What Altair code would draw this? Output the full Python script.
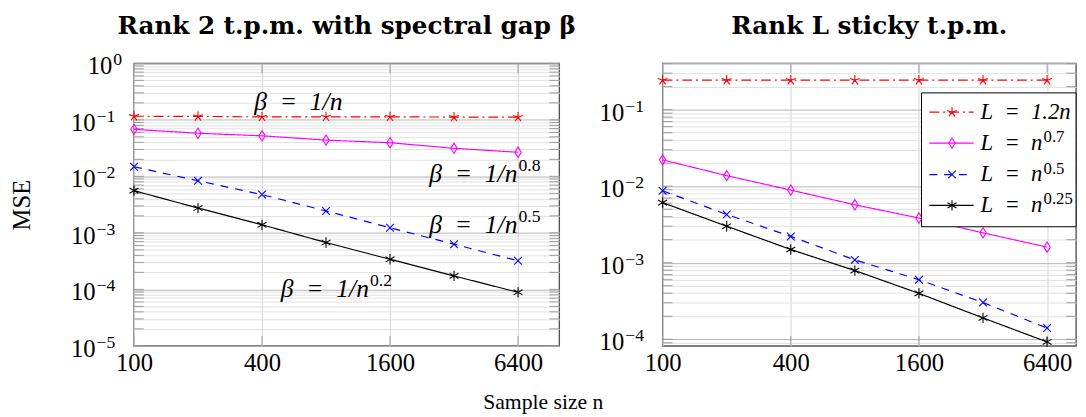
import altair as alt
import pandas as pd

FONT = "Liberation Serif"
TITLE_FONT = "DejaVu Serif"

# ---------------- data ----------------
n_values = [100, 200, 400, 800, 1600, 3200, 6400]
series_keys = ["red", "magenta", "blue", "black"]

left_red = [0.116, 0.115, 0.113, 0.113, 0.113, 0.112, 0.112]
left_magenta = [0.068, 0.058, 0.0522, 0.0438, 0.0394, 0.0314, 0.0267]
left_blue = [0.0148, 0.00835, 0.00476, 0.00244, 0.00123, 0.00063, 0.00032]
left_black = [0.00559, 0.00275, 0.00139, 0.000675, 0.000341, 0.000173, 0.0000887]

right_red = [0.243, 0.243, 0.243, 0.243, 0.243, 0.243, 0.243]
right_magenta = [0.0221, 0.01375, 0.0089, 0.00572, 0.00384, 0.00246, 0.0016]
right_blue = [0.00873, 0.00428, 0.00221, 0.00109, 0.0006, 0.000302, 0.00014]
right_black = [0.0061, 0.0030, 0.00149, 0.00079, 0.000398, 0.00019, 0.0000923]

x_tick_values = [100, 400, 1600, 6400]
left_decades = [1, 0.1, 0.01, 0.001, 0.0001, 0.00001]
left_exponents = ["0", "\u22121", "\u22122", "\u22123", "\u22124", "\u22125"]
right_decades = [0.1, 0.01, 0.001, 0.0001]
right_exponents = ["\u22121", "\u22122", "\u22123", "\u22124"]

note_text = ["\u03b2\u00a0\u00a0=\u00a0\u00a01/n"] * 4
note_exp = ["", "0.8", "0.5", "0.2"]
note_n = [956, 6360, 6360, 1274]
note_mse = [0.152, 0.00802, 0.00101, 0.0000743]

legend_text = ["L\u00a0\u00a0=\u00a0\u00a01.2n", "L\u00a0\u00a0=\u00a0\u00a0n",
               "L\u00a0\u00a0=\u00a0\u00a0n", "L\u00a0\u00a0=\u00a0\u00a0n"]
legend_exp = ["", "0.7", "0.5", "0.25"]

left_title = "Rank 2 t.p.m. with spectral gap \u03b2"
right_title = "Rank L sticky t.p.m."
x_title = "Sample size n"
y_title = "MSE"

# ---------------- styles ----------------
colors = ["#ff0000", "#ff00ff", "#0000ff", "#000000"]
dashes = [[10, 4, 2, 4], [1, 0], [8, 7], [1, 0]]
STAR = "M0,0L0,-1M0,0L0.951,-0.309M0,0L0.588,0.809M0,0L-0.588,0.809M0,0L-0.951,-0.309"
DIAMOND = "M0,-1L0.62,0L0,1L-0.62,0Z"
XMARK = "M-0.75,-0.75L0.75,0.75M-0.75,0.75L0.75,-0.75"
ASTER = "M0,-1L0,1M-0.866,-0.5L0.866,0.5M-0.866,0.5L0.866,-0.5"
shapes = [STAR, DIAMOND, XMARK, ASTER]

W_LEFT, W_RIGHT, H = 432, 420, 287
DECADE_TEST = "abs(log(datum.value)/LN10 - round(log(datum.value)/LN10)) < 0.01"


def grid_values(lo, hi):
    vals = []
    for k in range(-6, 1):
        for m in range(1, 10):
            v = float(f"{m}e{k}")
            if lo * 0.999 <= v <= hi * 1.001:
                vals.append(v)
    return vals


def make_panel(series_vals, xmax, ydom, width, decades, exps, title_text, ytitle, extras):
    frames = [pd.DataFrame({"n": n_values, "mse": vals, "series": key})
              for key, vals in zip(series_keys, series_vals)]
    df = pd.concat(frames, ignore_index=True)
    gvals = grid_values(ydom[0], ydom[1])
    xscale = alt.Scale(type="log", domain=[100, xmax], nice=False)
    yscale = alt.Scale(type="log", domain=ydom, nice=False)
    xaxis = alt.Axis(values=x_tick_values, format="d", grid=True, gridColor="#d4d4d4",
                     gridWidth=1, ticks=False, domain=False, labelFont=FONT,
                     labelFontSize=25, labelColor="#000", labelPadding=5, labelFlush=False,
                     labelOverlap=False, title=None)
    yargs = dict(values=gvals, labels=False, ticks=False, domain=False, grid=True,
                 gridWidth=1,
                 gridColor={"condition": {"test": DECADE_TEST, "value": "#b4b4b4"},
                            "value": "#e0e0e0"})
    if ytitle:
        yargs.update(title=ytitle, titleFont=FONT, titleFontSize=25, titleFontWeight="normal",
                     titleColor="#000", titleAngle=270, titleX=-114, titleY=H / 2,
                     titleAlign="center", titleBaseline="middle")
    else:
        yargs.update(title=None)
    yaxis = alt.Axis(**yargs)

    color_enc = alt.Color("series:N", scale=alt.Scale(domain=series_keys, range=colors), legend=None)

    lines = alt.Chart(df).mark_line(strokeWidth=1.2).encode(
        x=alt.X("n:Q", scale=xscale, axis=xaxis),
        y=alt.Y("mse:Q", scale=yscale, axis=yaxis),
        color=color_enc,
        strokeDash=alt.StrokeDash("series:N", scale=alt.Scale(domain=series_keys, range=dashes), legend=None),
    )
    points = alt.Chart(df).mark_point(filled=False, size=110, strokeWidth=1.1, opacity=1).encode(
        x="n:Q", y="mse:Q", color=color_enc,
        shape=alt.Shape("series:N", scale=alt.Scale(domain=series_keys, range=shapes), legend=None),
    )

    gdf = pd.DataFrame({"mse": gvals})
    xdf = pd.DataFrame({"n": x_tick_values})
    tcol = "#9a9a9a"
    tick_l = alt.Chart(gdf).mark_rule(color=tcol, strokeWidth=1).encode(
        y="mse:Q", x=alt.value(0), x2=alt.value(10))
    tick_r = alt.Chart(gdf).mark_rule(color=tcol, strokeWidth=1).encode(
        y="mse:Q", x=alt.value(width - 10), x2=alt.value(width))
    tick_b = alt.Chart(xdf).mark_rule(color=tcol, strokeWidth=1).encode(
        x="n:Q", y=alt.value(H - 10), y2=alt.value(H))
    tick_t = alt.Chart(xdf).mark_rule(color=tcol, strokeWidth=1).encode(
        x="n:Q", y=alt.value(0), y2=alt.value(10))

    ldf = pd.DataFrame({"mse": decades, "e": exps})
    ten_neg = alt.Chart(ldf).transform_filter("datum.e != '0'").mark_text(
        align="right", baseline="alphabetic", dy=11, font=FONT, fontSize=25, color="#000").encode(
        y="mse:Q", x=alt.value(-39), text=alt.value("10"))
    ten_zero = alt.Chart(ldf).transform_filter("datum.e == '0'").mark_text(
        align="right", baseline="alphabetic", dy=11, font=FONT, fontSize=25, color="#000").encode(
        y="mse:Q", x=alt.value(-22), text=alt.value("10"))
    exp_neg = alt.Chart(ldf).transform_filter("datum.e != '0'").mark_text(
        align="left", baseline="alphabetic", dy=2, font=FONT, fontSize=18, color="#000").encode(
        y="mse:Q", x=alt.value(-38), text="e:N")
    exp_zero = alt.Chart(ldf).transform_filter("datum.e == '0'").mark_text(
        align="left", baseline="alphabetic", dy=2, font=FONT, fontSize=18, color="#000").encode(
        y="mse:Q", x=alt.value(-21), text="e:N")

    title_mark = alt.Chart(pd.DataFrame({"t": [title_text]})).mark_text(
        align="center", baseline="alphabetic", font=TITLE_FONT, fontSize=25, fontWeight="bold",
        color="#000").encode(x=alt.value(width / 2), y=alt.value(-30), text="t:N")

    layers = [tick_l, tick_r, tick_b, tick_t, lines, points, ten_neg, ten_zero, exp_neg, exp_zero,
              title_mark] + extras
    return alt.layer(*layers).properties(width=width, height=H)


# annotations for left panel
ndf = pd.DataFrame({"n": note_n, "mse": note_mse, "t": note_text, "e": note_exp})
note_base = alt.Chart(ndf).mark_text(align="right", baseline="alphabetic", font=FONT, fontSize=26,
                                     fontStyle="italic", color="#000").encode(
    x="n:Q", y="mse:Q", text="t:N")
note_sup = alt.Chart(ndf).mark_text(align="left", baseline="alphabetic", dx=1, dy=-11, font=FONT,
                                    fontSize=18, color="#000").encode(
    x="n:Q", y="mse:Q", text="e:N")

left = make_panel([left_red, left_magenta, left_blue, left_black], 10000, [1e-5, 1],
                  W_LEFT, left_decades, left_exponents, left_title, y_title,
                  [note_base, note_sup])

# manual legend for right panel
one = pd.DataFrame({"k": [0]})
leg_layers = [alt.Chart(one).mark_rect(fill="#fff", stroke="#000", strokeWidth=1).encode(
    x=alt.value(263), x2=alt.value(W_RIGHT), y=alt.value(30), y2=alt.value(166))]
row_y = [49.6, 81, 113, 144.3]
for i in range(4):
    leg_layers.append(alt.Chart(one).mark_rule(color=colors[i], strokeDash=dashes[i], strokeWidth=1.2).encode(
        x=alt.value(271), x2=alt.value(316), y=alt.value(row_y[i])))
    leg_layers.append(alt.Chart(one).mark_point(shape=shapes[i], size=110, filled=False, strokeWidth=1.1,
                                                color=colors[i], opacity=1).encode(
        x=alt.value(294), y=alt.value(row_y[i])))
    leg_layers.append(alt.Chart(one).mark_text(align="left", baseline="alphabetic", dy=7, font=FONT,
                                               fontSize=23, fontStyle="italic", color="#000").encode(
        x=alt.value(323), y=alt.value(row_y[i]), text=alt.value(legend_text[i])))
    if legend_exp[i]:
        leg_layers.append(alt.Chart(one).mark_text(align="left", baseline="alphabetic", dy=-1, font=FONT,
                                                   fontSize=17, color="#000").encode(
            x=alt.value(387), y=alt.value(row_y[i]), text=alt.value(legend_exp[i])))

right = make_panel([right_red, right_magenta, right_blue, right_black], 8752, [8.2e-5, 0.403],
                   W_RIGHT, right_decades, right_exponents, right_title, None, leg_layers)

chart = alt.hconcat(left, right, spacing=105, bounds="flush").properties(
    title=alt.TitleParams(x_title, orient="bottom", anchor="middle", font=FONT, fontSize=22,
                          fontWeight="normal", color="#000", offset=16),
    padding={"left": 1, "right": 0, "top": 2, "bottom": 0},
).configure_view(stroke="#555", strokeWidth=1.4)

chart.save("out.html", embed_options={"renderer": "svg", "actions": False})
